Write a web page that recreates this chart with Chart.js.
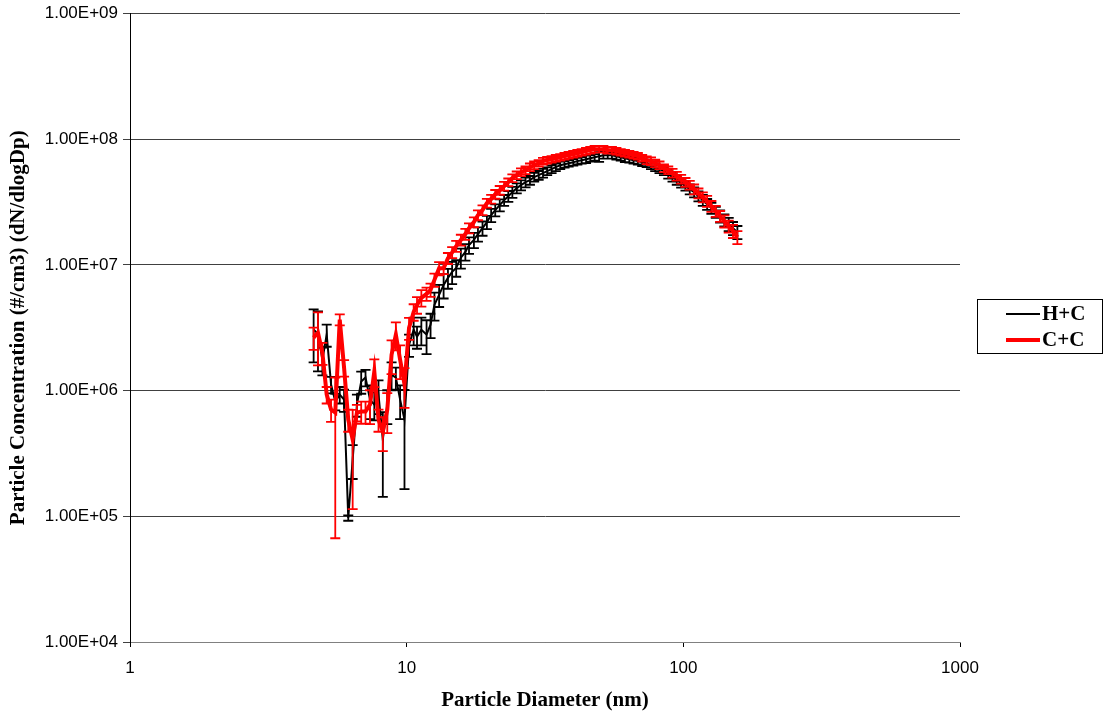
<!doctype html>
<html>

<head>
  <script src="https://cdn.jsdelivr.net/npm/chart.js@4/dist/chart.umd.min.js"></script>
  <style>
    html, body { margin: 0; padding: 0; background: #fff; }
    #wrap { width: 1105px; height: 715px; }
  </style>
</head>

<body>
  <div id="wrap">
    <canvas id="canvas"></canvas>
  </div>
  <script>
    // particle diameter bins (nm)
    const diameters = [
      4.61, 4.78, 4.96, 5.14, 5.33, 5.52, 5.73, 5.94, 6.15, 6.38,
      6.61, 6.85, 7.10, 7.37, 7.64, 7.91, 8.20, 8.51, 8.82, 9.14,
      9.47, 9.82, 10.2, 10.6, 10.9, 11.3, 11.8, 12.2, 12.6, 13.1,
      13.6, 14.1, 14.6, 15.1, 15.7, 16.3, 16.8, 17.5, 18.1, 18.8,
      19.5, 20.2, 20.9, 21.7, 22.5, 23.3, 24.1, 25.0, 25.9, 26.9,
      27.9, 28.9, 30.0, 31.1, 32.2, 33.4, 34.6, 35.9, 37.2, 38.5,
      40.0, 41.4, 42.9, 44.5, 46.1, 47.8, 49.6, 51.4, 53.3, 55.2,
      57.3, 59.4, 61.5, 63.8, 66.1, 68.5, 71.0, 73.7, 76.4, 79.1,
      82.0, 85.1, 88.2, 91.4, 94.7, 98.2, 101.8, 105.5, 109.4, 113.4,
      117.6, 121.9, 126.3, 131.0, 135.8, 140.7, 145.9, 151.2, 156.8
    ];

    // H+C  dN/dlogDp
    const hcValues = [
      3.05e6, 2.84e6, 1.76e6, 2.79e6, 1.12e6, 8.18e5, 9.29e5, 8.48e5, 9.7e4, 2.83e5,
      7.74e5, 1.18e6, 1.27e6, 8.48e5, 7.74e5, 9.29e5, 4.08e5, 7.74e5, 1.34e6, 1.27e6,
      8.48e5, 5.88e5, 2.32e6, 3.05e6, 2.69e6, 3.05e6, 2.79e6, 3.35e6, 4.81e6, 5.78e6,
      6.93e6, 7.88e6, 8.80e6, 9.47e6, 1.14e7, 1.27e7, 1.44e7, 1.58e7, 1.76e7, 1.96e7,
      2.19e7, 2.49e7, 2.73e7, 2.99e7, 3.27e7, 3.52e7, 3.79e7, 4.08e7, 4.31e7, 4.55e7,
      4.72e7, 4.99e7, 5.17e7, 5.37e7, 5.57e7, 5.78e7, 5.99e7, 6.21e7, 6.33e7, 6.44e7,
      6.56e7, 6.69e7, 6.81e7, 6.93e7, 7.06e7, 7.19e7, 7.33e7, 7.46e7, 7.46e7, 7.46e7,
      7.33e7, 7.19e7, 7.06e7, 6.93e7, 6.81e7, 6.69e7, 6.56e7, 6.44e7, 6.21e7, 5.99e7,
      5.78e7, 5.57e7, 5.27e7, 4.99e7, 4.72e7, 4.47e7, 4.23e7, 4.00e7, 3.79e7, 3.52e7,
      3.27e7, 3.04e7, 2.83e7, 2.63e7, 2.44e7, 2.27e7, 2.11e7, 1.96e7, 1.82e7
    ];

    // C+C  dN/dlogDp
    const ccValues = [
      2.64e6, 2.89e6, 2.0e6, 9.29e5, 7.06e5, 6.69e5, 3.67e6, 1.52e6, 5.88e5, 4.08e5,
      6.69e5, 6.81e5, 6.81e5, 7.74e5, 1.42e6, 5.88e5, 4.72e5, 7.06e5, 1.93e6, 2.79e6,
      1.76e6, 1.12e6, 3.16e6, 4.23e6, 4.81e6, 5.47e6, 5.88e6, 6.33e6, 7.6e6, 9.4e6,
      9.4e6, 1.13e7, 1.26e7, 1.41e7, 1.58e7, 1.76e7, 1.96e7, 2.19e7, 2.49e7, 2.73e7,
      3.10e7, 3.34e7, 3.65e7, 3.93e7, 4.23e7, 4.55e7, 4.90e7, 5.17e7, 5.47e7, 5.67e7,
      5.99e7, 6.21e7, 6.44e7, 6.69e7, 6.81e7, 6.93e7, 7.06e7, 7.19e7, 7.33e7, 7.46e7,
      7.60e7, 7.74e7, 7.88e7, 8.03e7, 8.18e7, 8.33e7, 8.33e7, 8.33e7, 8.18e7, 8.18e7,
      8.03e7, 7.88e7, 7.74e7, 7.60e7, 7.46e7, 7.33e7, 7.06e7, 6.81e7, 6.69e7, 6.44e7,
      6.21e7, 5.88e7, 5.67e7, 5.37e7, 5.08e7, 4.81e7, 4.55e7, 4.31e7, 4.00e7, 3.72e7,
      3.46e7, 3.22e7, 2.93e7, 2.68e7, 2.44e7, 2.23e7, 2.03e7, 1.86e7, 1.66e7
    ];

    // error bars, as a fraction of the value
    const hcErrFrac = [
      0.45, 0.5, 0.25, 0.2, 0.15, 0.15, 0.15, 0.2, 0.05, 0.3,
      0.2, 0.2, 0.15, 0.3, 0.25, 0.3, 0.65, 0.3, 0.25, 0.2,
      0.3, 0.72, 0.2, 0.25, 0.2, 0.25, 0.3, 0.22, 0.25, 0.2,
      0.22, 0.18, 0.2, 0.15, 0.18, 0.15, 0.15, 0.14, 0.13, 0.13,
      0.12, 0.12, 0.11, 0.11, 0.1, 0.1, 0.1, 0.09, 0.09, 0.09,
      0.08, 0.08, 0.08, 0.08, 0.07, 0.07, 0.07, 0.07, 0.06, 0.06,
      0.06, 0.06, 0.06, 0.07, 0.06, 0.06, 0.1, 0.06, 0.06, 0.06,
      0.06, 0.06, 0.07, 0.06, 0.06, 0.06, 0.07, 0.07, 0.07, 0.07,
      0.07, 0.07, 0.08, 0.08, 0.08, 0.08, 0.08, 0.09, 0.09, 0.09,
      0.1, 0.1, 0.1, 0.1, 0.11, 0.11, 0.12, 0.12, 0.12
    ];
    const ccErrFrac = [
      0.2, 0.45, 0.2, 0.15, 0.2, 0.9, 0.1, 0.15, 0.2, 0.72,
      0.15, 0.2, 0.2, 0.3, 0.25, 0.2, 0.3, 0.35, 0.3, 0.25,
      0.3, 0.35, 0.2, 0.15, 0.15, 0.15, 0.12, 0.12, 0.12, 0.12,
      0.1, 0.1, 0.1, 0.1, 0.1, 0.1, 0.09, 0.09, 0.09, 0.09,
      0.08, 0.08, 0.08, 0.08, 0.08, 0.07, 0.07, 0.07, 0.07, 0.07,
      0.07, 0.07, 0.06, 0.06, 0.06, 0.06, 0.06, 0.06, 0.06, 0.06,
      0.06, 0.06, 0.06, 0.06, 0.06, 0.06, 0.06, 0.06, 0.06, 0.06,
      0.06, 0.06, 0.06, 0.06, 0.06, 0.06, 0.06, 0.07, 0.07, 0.07,
      0.07, 0.07, 0.07, 0.08, 0.08, 0.08, 0.08, 0.08, 0.09, 0.09,
      0.09, 0.1, 0.1, 0.1, 0.1, 0.11, 0.11, 0.12, 0.12
    ];

    const seriesNames = ['H+C', 'C+C'];
    const xTicks = [1, 10, 100, 1000];
    const yTicks = [1e4, 1e5, 1e6, 1e7, 1e8, 1e9];

    const sciLabel = (v) => {
      const e = Math.floor(Math.log10(v) + 1e-9);
      const m = (v / Math.pow(10, e)).toFixed(2);
      return m + 'E' + (e < 0 ? '-' : '+') + String(Math.abs(e)).padStart(2, '0');
    };

    // Excel-style vertical error bars with caps
    const errorBars = {
      id: 'errorBars',
      afterDatasetDraw(chart, args) {
        const ds = chart.data.datasets[args.index];
        if (!ds.errFrac) return;
        const ctx = chart.ctx;
        const ys = chart.scales.y;
        const cap = 5;
        ctx.save();
        ctx.strokeStyle = ds.borderColor;
        ctx.lineWidth = ds.errWidth;
        ctx.beginPath();
        args.meta.data.forEach((pt, i) => {
          const v = ds.data[i].y;
          const e = v * ds.errFrac[i];
          const top = ys.getPixelForValue(v + e);
          const bot = ys.getPixelForValue(Math.max(v - e, ys.min));
          ctx.moveTo(pt.x, top); ctx.lineTo(pt.x, bot);
          ctx.moveTo(pt.x - cap, top); ctx.lineTo(pt.x + cap, top);
          ctx.moveTo(pt.x - cap, bot); ctx.lineTo(pt.x + cap, bot);
        });
        ctx.stroke();
        ctx.restore();
      }
    };

    // legend with a frame, to the right of the plot
    const boxLegend = {
      id: 'boxLegend',
      afterDraw(chart) {
        const ctx = chart.ctx;
        const left = chart.chartArea.right + 17;
        const top = 299;
        ctx.save();
        ctx.strokeStyle = '#000';
        ctx.lineWidth = 1;
        ctx.strokeRect(left + 0.5, top + 0.5, 125, 54);
        ctx.font = 'bold 21px "Liberation Serif", "Times New Roman", serif';
        ctx.textBaseline = 'middle';
        ctx.fillStyle = '#000';
        chart.data.datasets.forEach((ds, i) => {
          const y = top + 15 + i * 26;
          ctx.strokeStyle = ds.borderColor;
          ctx.lineWidth = ds.borderWidth;
          ctx.beginPath();
          ctx.moveTo(left + 29, y);
          ctx.lineTo(left + 63, y);
          ctx.stroke();
          ctx.fillText(ds.label, left + 65, y + 1);
        });
        ctx.restore();
      }
    };

    const chart = new Chart(document.getElementById('canvas').getContext('2d'), {
      type: 'line',
      data: {
        datasets: [{
          label: seriesNames[0],
          data: diameters.map((d, i) => ({ x: d, y: hcValues[i] })),
          borderColor: '#000000',
          borderWidth: 2,
          errFrac: hcErrFrac,
          errWidth: 1.8,
          pointRadius: 0,
          tension: 0,
          order: 1
        }, {
          label: seriesNames[1],
          data: diameters.map((d, i) => ({ x: d, y: ccValues[i] })),
          borderColor: '#ff0000',
          borderWidth: 4,
          errFrac: ccErrFrac,
          errWidth: 1.8,
          pointRadius: 0,
          tension: 0,
          order: 0
        }]
      },
      options: {
        responsive: true,
        maintainAspectRatio: false,
        animation: false,
        layout: { padding: { top: 13, right: 145, left: 0, bottom: 0 } },
        plugins: {
          legend: { display: false },
          tooltip: { enabled: false }
        },
        scales: {
          x: {
            type: 'logarithmic',
            min: 1,
            max: 1000,
            afterBuildTicks: (scale) => { scale.ticks = xTicks.map((v) => ({ value: v })); },
            afterFit: (scale) => { scale.height = 73; },
            ticks: {
              autoSkip: false,
              maxRotation: 0,
              padding: 11,
              color: '#000',
              font: { family: '"Liberation Sans", Arial, sans-serif', size: 17 },
              callback: (v) => String(v)
            },
            grid: { drawOnChartArea: false, color: '#000', tickLength: 5 },
            border: { color: '#808080', width: 1 },
            title: {
              display: true,
              text: 'Particle Diameter (nm)',
              color: '#000',
              font: { family: '"Liberation Serif", "Times New Roman", serif', size: 21, weight: 'bold' },
              padding: { top: 0, bottom: 2 }
            }
          },
          y: {
            type: 'logarithmic',
            min: 1e4,
            max: 1e9,
            afterBuildTicks: (scale) => { scale.ticks = yTicks.map((v) => ({ value: v })); },
            afterFit: (scale) => { scale.width = 130; },
            ticks: {
              autoSkip: false,
              padding: 5,
              color: '#000',
              font: { family: '"Liberation Sans", Arial, sans-serif', size: 17, lineHeight: 1 },
              callback: (v) => sciLabel(v)
            },
            grid: { color: '#404040', lineWidth: 1, tickLength: 7 },
            border: { color: '#000', width: 1 },
            title: {
              display: true,
              text: 'Particle Concentration (#/cm3) (dN/dlogDp)',
              color: '#000',
              font: { family: '"Liberation Serif", "Times New Roman", serif', size: 21, weight: 'bold' },
              padding: { top: 6, bottom: 0 }
            }
          }
        }
      },
      plugins: [errorBars, boxLegend]
    });
  </script>
</body>

</html>
